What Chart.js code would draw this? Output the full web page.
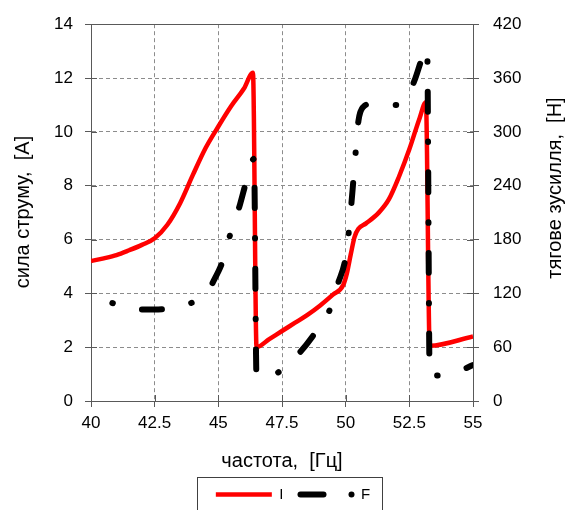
<!DOCTYPE html>
<html>
<head>
<meta charset="utf-8">
<script src="https://cdn.jsdelivr.net/npm/chart.js@4.4.1/dist/chart.umd.min.js"></script>
<style>
  html, body { margin: 0; padding: 0; background: #fff; }
  #wrap { width: 572px; height: 510px; }
</style>
</head>
<body>
<div id="wrap"><canvas id="chart" width="572" height="510"></canvas></div>
<script>
// частота, Гц  та сила струму, А
const freqI = [40.0, 40.5, 41.0, 41.5, 42.0, 42.5, 43.0, 43.5, 44.0, 44.5, 45.0, 45.5, 46.0, 46.36,
               46.5, 47.0, 47.5, 48.0, 48.5, 49.0, 49.5, 49.9, 50.05, 50.2, 50.35, 50.5, 50.8, 51.3,
               51.7, 52.1, 52.5, 52.9, 53.15, 53.3, 55.0];
const currentI = [5.2, 5.3, 5.42, 5.6, 5.8, 6.05, 6.55, 7.35, 8.4, 9.4, 10.2, 10.95, 11.6, 12.2,
                  2.0, 2.3, 2.6, 2.9, 3.2, 3.55, 3.95, 4.3, 4.75, 5.45, 6.1, 6.4, 6.6, 7.0,
                  7.5, 8.35, 9.35, 10.5, 11.1, 2.05, 2.4];

// частота, Гц  та тягове зусилля, Н
const freqF = [40.0, 40.86, 41.5, 42.0, 42.5, 43.0, 43.5, 44.0, 44.5, 44.8, 45.2, 45.5, 45.85, 46.1, 46.4,
               46.5, 46.9, 47.3, 48.1, 48.7, 49.35, 49.7, 50.0, 50.12, 50.27, 50.4, 50.5, 50.7, 51.0,
               52.1, 52.4, 52.7, 53.0, 53.2, 53.3, 54.3, 55.0];
const forceF = [115, 109, 103, 102, 102, 103, 106, 110, 118, 133, 158, 189, 219, 245, 270,
                27, 28, 31, 51, 72, 100, 131, 160, 188, 235, 280, 312, 328, 331,
                330, 340, 357, 382, 393, 28, 32, 40];

const xTicks = [40, 42.5, 45, 47.5, 50, 52.5, 55];
const seriesNames = ['I', 'F'];

const fontFam = "'Liberation Sans', Arial, sans-serif";
const axisColor = '#595959';

function pts(xs, ys) {
    return xs.map((x, i) => ({ x: x, y: ys[i] }));
}

// рамка, засічки та підписи осей Y
const extras = {
    id: 'extras',
    afterDraw(chart) {
        const ctx = chart.ctx;
        const a = chart.chartArea;
        const sx = chart.scales.x, sy = chart.scales.y, sy2 = chart.scales.y2;
        ctx.save();
        ctx.strokeStyle = axisColor;
        ctx.lineWidth = 1;
        ctx.beginPath();
        ctx.moveTo(a.left, Math.round(a.top) + 0.5);
        ctx.lineTo(a.right, Math.round(a.top) + 0.5);
        sy.ticks.forEach(t => {
            const p = Math.round(sy.getPixelForValue(t.value)) + 0.5;
            ctx.moveTo(a.left, p); ctx.lineTo(a.left + 6, p);
        });
        sy2.ticks.forEach(t => {
            const p = Math.round(sy2.getPixelForValue(t.value)) + 0.5;
            ctx.moveTo(a.right - 6, p); ctx.lineTo(a.right, p);
        });
        sx.ticks.forEach(t => {
            const p = Math.round(sx.getPixelForValue(t.value)) + 0.5;
            ctx.moveTo(p, a.bottom - 6); ctx.lineTo(p, a.bottom);
        });
        ctx.stroke();

        // підписи осей Y
        ctx.fillStyle = '#000';
        ctx.font = '20px ' + fontFam;
        ctx.textAlign = 'center';
        ctx.textBaseline = 'middle';
        ctx.save();
        ctx.translate(23, 212);
        ctx.rotate(-Math.PI / 2);
        ctx.fillText('сила струму,  [А]', 0, 0);
        ctx.restore();
        ctx.save();
        ctx.translate(555, 188);
        ctx.rotate(-Math.PI / 2);
        ctx.fillText('тягове зусилля,  [Н]', 0, 0);
        ctx.restore();

        // рамка легенди та зразок лінії F
        const boxes = chart.legend.legendHitBoxes;
        if (boxes && boxes.length) {
            const first = boxes[0], last = boxes[boxes.length - 1];
            const l = Math.round(first.left - 19) + 0.5;
            const r = Math.round(last.left + last.width + 12) + 0.5;
            const t = Math.round(first.top + first.height / 2 - 18) + 0.5;
            ctx.strokeStyle = '#404040';
            ctx.strokeRect(l, t, r - l, 60);

            const cy = last.top + 7.5;
            ctx.strokeStyle = '#000';
            ctx.fillStyle = '#000';
            ctx.lineWidth = 6;
            ctx.lineCap = 'round';
            ctx.beginPath();
            ctx.moveTo(last.left + 3, cy);
            ctx.lineTo(last.left + 26, cy);
            ctx.stroke();
            ctx.beginPath();
            ctx.arc(last.left + 54, cy, 3, 0, Math.PI * 2);
            ctx.fill();
        }
        ctx.restore();
    }
};

new Chart(document.getElementById('chart'), {
    type: 'line',
    data: {
        datasets: [
            {
                label: seriesNames[0],
                data: pts(freqI, currentI),
                yAxisID: 'y',
                borderColor: '#ff0000',
                backgroundColor: '#ff0000',
                borderWidth: 4.5,
                borderCapStyle: 'butt',
                borderJoinStyle: 'round',
                cubicInterpolationMode: 'monotone',
                pointRadius: 0,
                order: 2
            },
            {
                label: seriesNames[1],
                data: pts(freqF, forceF),
                yAxisID: 'y2',
                borderColor: '#000000',
                backgroundColor: '#000000',
                borderWidth: 6,
                borderDash: [20, 30, 0.5, 30],
                borderDashOffset: 28,
                borderCapStyle: 'round',
                borderJoinStyle: 'round',
                cubicInterpolationMode: 'monotone',
                pointRadius: 0,
                order: 1
            }
        ]
    },
    options: {
        responsive: false,
        animation: false,
        locale: 'en-US',
        layout: { padding: { left: 14, right: 0, top: 19, bottom: -2 } },
        plugins: {
            tooltip: { enabled: false },
            legend: {
                position: 'bottom',
                labels: {
                    usePointStyle: true,
                    pointStyle: 'line',
                    pointStyleWidth: 56,
                    padding: 14,
                    color: '#000',
                    font: { family: fontFam, size: 15 },
                    sort: (a, b) => a.datasetIndex - b.datasetIndex,
                    generateLabels(chart) {
                        const items = Chart.defaults.plugins.legend.labels.generateLabels(chart);
                        items.forEach(it => {
                            it.pointStyle = 'line';
                            if (it.text === 'F') {
                                it.lineWidth = 0;
                                it.strokeStyle = 'rgba(0,0,0,0)';
                            }
                        });
                        return items;
                    }
                }
            }
        },
        scales: {
            x: {
                type: 'linear',
                min: 40,
                max: 55,
                afterBuildTicks(scale) { scale.ticks = xTicks.map(v => ({ value: v })); },
                afterFit(scale) { scale.height = 72; },
                grid: { color: '#8c8c8c', tickColor: axisColor, tickLength: 6, tickBorderDash: [] },
                border: { color: axisColor, width: 1, dash: [4, 3] },
                ticks: { color: '#000', padding: 6, maxRotation: 0, font: { family: fontFam, size: 17 } },
                title: {
                    display: true,
                    text: 'частота,  [Гц]',
                    color: '#000',
                    padding: { top: 4, bottom: 0 },
                    font: { family: fontFam, size: 20 }
                }
            },
            y: {
                position: 'left',
                min: 0,
                max: 14,
                afterFit(scale) { scale.width = 77; },
                grid: { color: '#8c8c8c', tickColor: axisColor, tickLength: 6, tickBorderDash: [] },
                border: { color: axisColor, width: 1, dash: [4, 3] },
                ticks: { stepSize: 2, color: '#000', padding: 12, font: { family: fontFam, size: 17 } }
            },
            y2: {
                position: 'right',
                min: 0,
                max: 420,
                afterFit(scale) { scale.width = 99; },
                grid: { drawOnChartArea: false, tickColor: axisColor, tickLength: 6, tickBorderDash: [] },
                border: { color: axisColor, width: 1 },
                ticks: { stepSize: 60, color: '#000', padding: 14, font: { family: fontFam, size: 17 } }
            }
        }
    },
    plugins: [extras]
});
</script>
</body>
</html>
